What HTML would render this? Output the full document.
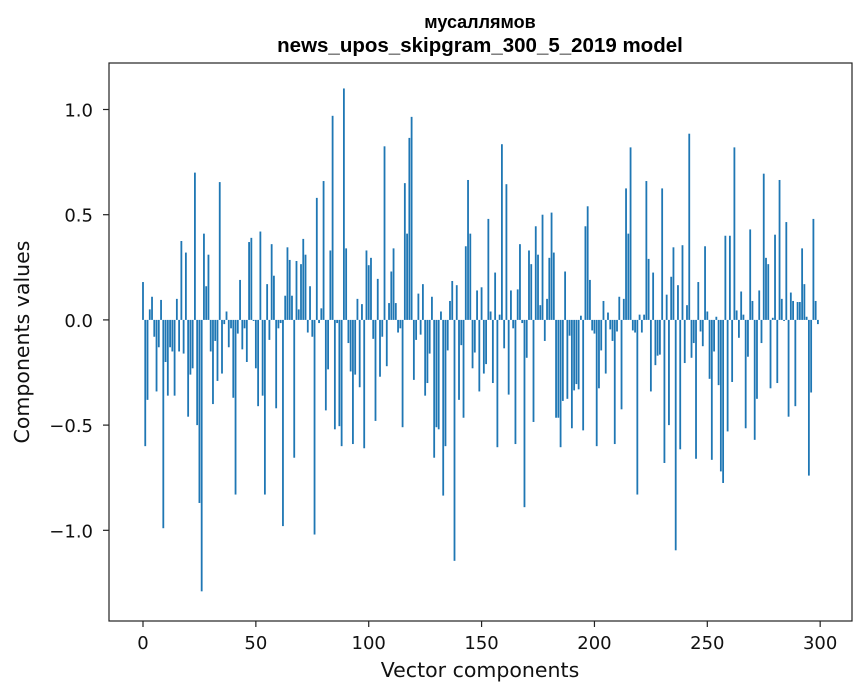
<!DOCTYPE html>
<html><head><meta charset="utf-8"><style>
body{margin:0;background:#fff;}
svg{display:block;font-family:"DejaVu Sans","Liberation Sans",sans-serif;}
</style></head><body>
<svg id="chart" width="867" height="696" viewBox="0 0 867 696">
<rect width="867" height="696" fill="#fff"/>
<text x="480" y="28" text-anchor="middle" font-size="18" font-weight="bold" font-family="Liberation Sans, sans-serif">мусаллямов</text>
<text x="480" y="52" text-anchor="middle" font-size="20.5" font-weight="bold" font-family="Liberation Sans, sans-serif">news_upos_skipgram_300_5_2019 model</text>
<g id="bars"></g>
<g id="axes"></g>
<rect x="109" y="63" width="743" height="558" fill="none" stroke="#222" stroke-width="1.2"/>
<text x="480" y="677" text-anchor="middle" font-size="20.5" fill="#111">Vector components</text>
<text transform="translate(29,342) rotate(-90)" text-anchor="middle" font-size="20.5" fill="#111">Components values</text>
</svg>
<script>
const values = [
0.18,-0.60,-0.38,0.05,0.11,-0.08,-0.34,-0.13,0.095,-0.99,
-0.2,-0.36,-0.13,-0.15,-0.36,0.10,-0.15,0.375,-0.16,0.32,
-0.46,-0.26,-0.23,0.70,-0.50,-0.87,-1.29,0.41,0.16,0.31,
-0.15,-0.40,-0.10,-0.29,0.655,-0.255,-0.02,0.04,-0.13,-0.04,
-0.37,-0.83,-0.065,0.19,-0.14,-0.04,-0.2,0.37,0.39,-0.005,
-0.23,-0.41,0.42,-0.36,-0.83,0.17,-0.095,0.36,0.21,-0.42,
-0.04,-0.015,-0.98,0.115,0.345,0.285,0.115,-0.655,0.28,0.05,
0.265,0.385,0.31,-0.06,0.16,-0.08,-1.02,0.58,-0.015,0.055,
0.66,-0.43,-0.235,0.33,0.97,-0.52,-0.015,-0.505,-0.60,1.10,
0.34,-0.11,-0.245,-0.59,-0.26,0.10,-0.32,0.075,-0.61,0.33,
0.26,0.295,-0.09,-0.48,0.195,-0.27,-0.08,0.825,-0.22,0.08,
0.23,0.34,0.08,-0.06,-0.04,-0.51,0.65,0.41,0.865,0.965,
-0.285,-0.095,0.125,-0.07,0.17,-0.36,-0.30,-0.16,0.11,-0.655,
-0.51,-0.52,0.04,-0.835,-0.60,-0.145,0.09,0.185,-1.145,0.165,
-0.38,-0.12,-0.465,0.35,0.665,0.41,-0.23,-0.155,0.14,-0.34,
0.155,-0.255,-0.21,0.48,0.04,-0.30,0.225,-0.605,0.025,0.835,
-0.135,0.645,-0.355,0.14,-0.04,-0.59,0.145,0.36,-0.015,-0.89,
-0.18,0.33,0.265,-0.485,0.445,0.31,0.07,0.50,-0.10,0.10,
0.295,0.51,0.32,-0.465,-0.465,-0.605,-0.385,0.23,-0.375,-0.075,
-0.515,-0.335,-0.305,-0.33,0.02,-0.525,0.445,0.54,0.19,-0.05,
-0.065,-0.60,-0.325,-0.145,0.09,-0.255,0.035,-0.045,-0.10,-0.59,
-0.055,0.11,-0.425,0.10,0.625,0.41,0.82,-0.05,-0.06,-0.83,
0.025,-0.06,0.025,0.66,0.29,-0.34,0.225,-0.215,-0.17,-0.165,
0.625,-0.68,0.12,-0.50,0.205,0.345,-1.095,0.165,-0.615,0.355,
-0.205,0.07,0.885,-0.18,-0.11,-0.66,0.18,-0.055,-0.125,0.35,
0.04,-0.28,-0.665,-0.15,0.015,-0.31,-0.72,-0.775,0.40,-0.53,
0.40,-0.295,0.82,0.045,-0.085,0.135,0.025,-0.515,-0.175,0.43,
0.09,-0.57,-0.375,0.14,-0.11,0.695,0.295,0.265,-0.325,0.01,
0.405,-0.30,0.665,0.10,-0.005,0.465,-0.46,0.13,0.09,-0.41,
0.085,0.085,0.34,0.17,0.015,-0.74,-0.345,0.48,0.09,-0.02
];
const xTicks = [0,50,100,150,200,250,300];
const yTicks = [-1.0,-0.5,0.0,0.5,1.0];
const yTickLabels = ["\u22121.0","\u22120.5","0.0","0.5","1.0"];

const NS = "http://www.w3.org/2000/svg";
const L=109,R=852,T=63,B=621;
const xMin=-15.06,xMax=314.1,yMin=-1.431,yMax=1.221;
function xs(v){return L+(v-xMin)/(xMax-xMin)*(R-L);}
function ys(v){return T+(yMax-v)/(yMax-yMin)*(B-T);}
const barsG=document.getElementById('bars');
values.forEach((v,i)=>{
  const r=document.createElementNS(NS,'rect');
  const x0=xs(i-0.4),x1=xs(i+0.4);
  const y0=ys(Math.max(v,0)),y1=ys(Math.min(v,0));
  r.setAttribute('x',x0);r.setAttribute('width',x1-x0);
  r.setAttribute('y',y0);r.setAttribute('height',Math.max(y1-y0,0.01));
  r.setAttribute('fill','#1f77b4');
  
  
  barsG.appendChild(r);
});
const axG=document.getElementById('axes');
xTicks.forEach(t=>{
  const x=xs(t);
  const l=document.createElementNS(NS,'line');
  l.setAttribute('x1',x);l.setAttribute('x2',x);l.setAttribute('y1',B);l.setAttribute('y2',B+6);
  l.setAttribute('stroke','#222');l.setAttribute('stroke-width','1.2');
  
  
  axG.appendChild(l);
  const tx=document.createElementNS(NS,'text');
  tx.setAttribute('x',x);tx.setAttribute('y',B+28);tx.setAttribute('text-anchor','middle');tx.setAttribute('font-size','18');tx.setAttribute('fill','#111');
  tx.textContent=t;
  
  
  axG.appendChild(tx);
});
yTicks.forEach((t,i)=>{
  const y=ys(t);
  const l=document.createElementNS(NS,'line');
  l.setAttribute('x1',L-6);l.setAttribute('x2',L);l.setAttribute('y1',y);l.setAttribute('y2',y);
  l.setAttribute('stroke','#222');l.setAttribute('stroke-width','1.2');
  
  
  axG.appendChild(l);
  const tx=document.createElementNS(NS,'text');
  tx.setAttribute('x',L-16);tx.setAttribute('y',y+7);tx.setAttribute('text-anchor','end');tx.setAttribute('font-size','18');tx.setAttribute('fill','#111');
  tx.textContent=yTickLabels[i];
  
  
  axG.appendChild(tx);
});
</script>
</body></html>
